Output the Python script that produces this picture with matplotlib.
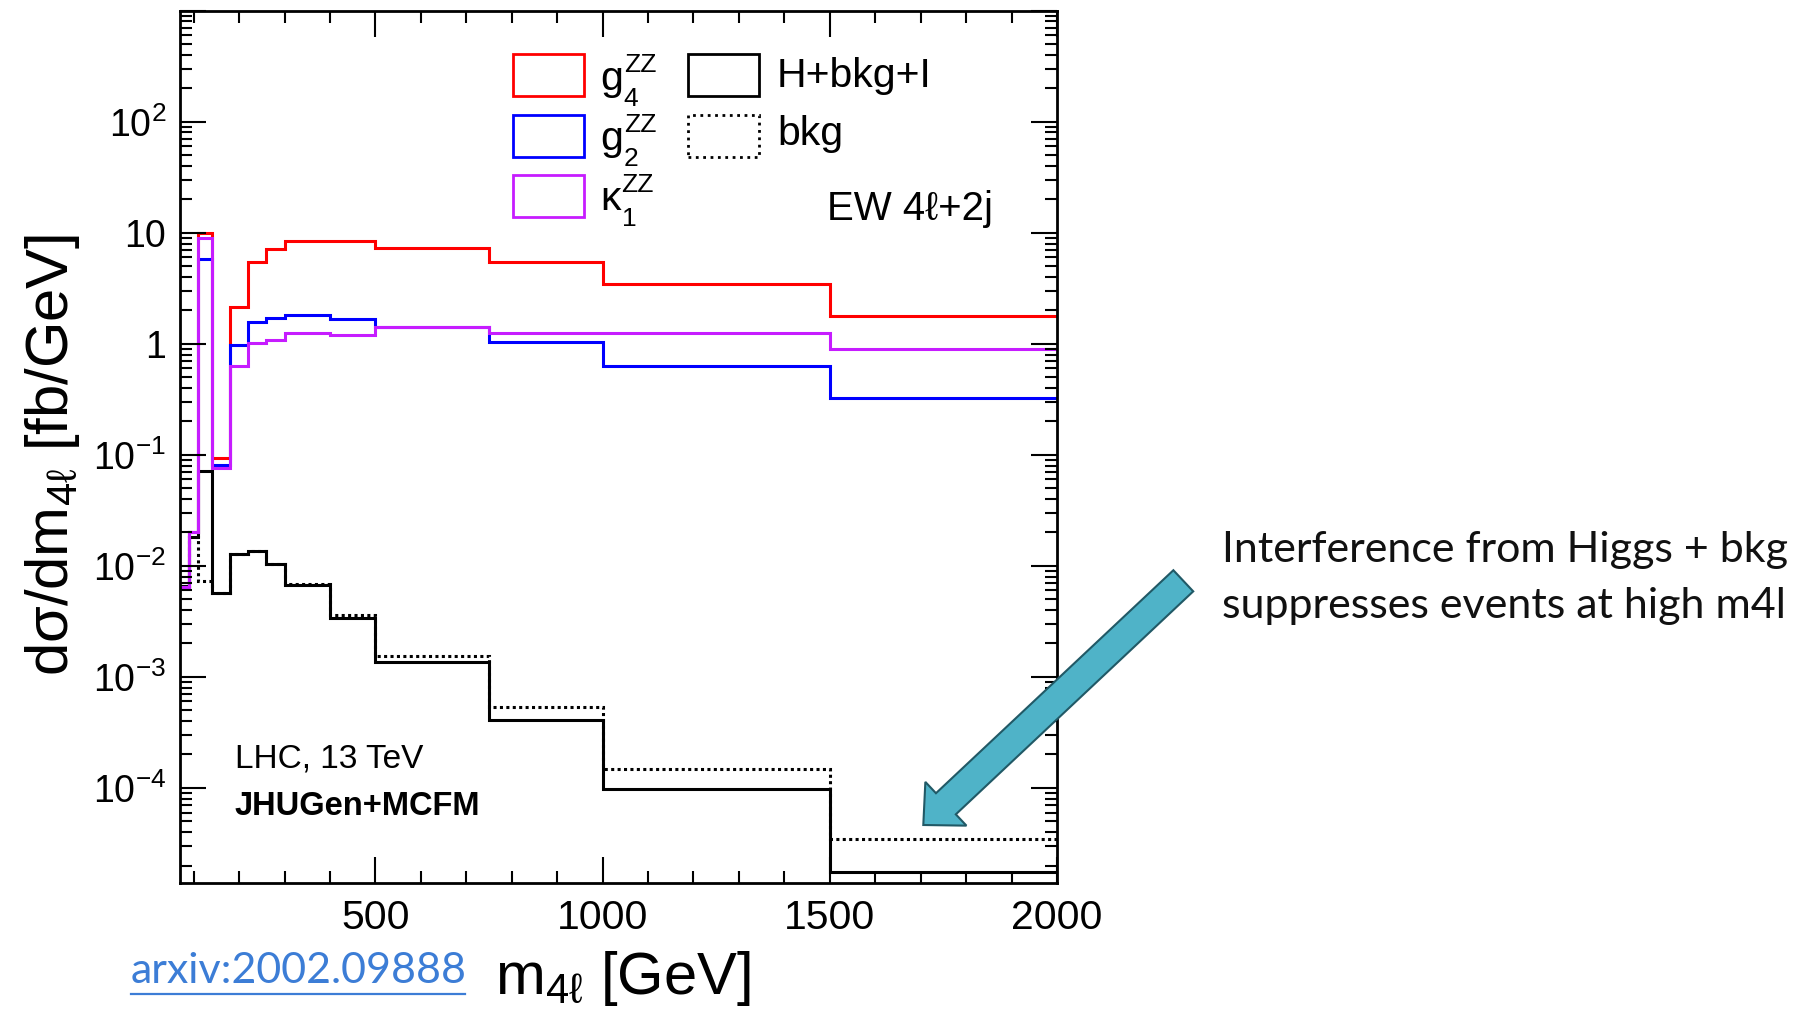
import numpy as np
import matplotlib
matplotlib.use("Agg")
import matplotlib.pyplot as plt
from matplotlib.patches import Rectangle, FancyArrow
from matplotlib.lines import Line2D
from matplotlib.ticker import FixedLocator, MultipleLocator, LogLocator, FuncFormatter, NullFormatter
from matplotlib.transforms import IdentityTransform

plt.rcParams['font.family'] = ['Liberation Sans', 'DejaVu Sans']
plt.rcParams['mathtext.fontset'] = 'custom'
plt.rcParams['mathtext.rm'] = 'Liberation Sans'
plt.rcParams['mathtext.it'] = 'Liberation Sans'
plt.rcParams['mathtext.bf'] = 'Liberation Sans:bold'
plt.rcParams['mathtext.sf'] = 'Liberation Sans'

# bin edges in m4l [GeV]
edges = [70, 90, 110, 140, 180, 220, 260, 300, 400, 500, 750, 1000, 1500, 2000]

# dsigma/dm4l [fb/GeV] per bin
g4_zz = [0.0064, 0.020, 9.9, 0.093, 2.15, 5.47, 7.08, 8.35, 8.5, 7.33, 5.47, 3.49, 1.78]
g2_zz = [0.0064, 0.020, 5.75, 0.081, 0.97, 1.57, 1.72, 1.80, 1.67, 1.42, 1.03, 0.635, 0.324]
k1_zz = [0.0064, 0.020, 8.9, 0.076, 0.63, 1.02, 1.09, 1.26, 1.20, 1.43, 1.26, 1.26, 0.905]
h_bkg_i = [0.0066, 0.018, 0.072, 0.0057, 0.0128, 0.0135, 0.0103, 0.0067, 0.0034, 0.00136, 4.1e-4, 9.8e-5, 1.73e-5]
bkg = [0.0066, 0.018, 0.0073, 0.0057, 0.0128, 0.0135, 0.0103, 0.0068, 0.0036, 0.00155, 5.3e-4, 1.49e-4, 3.46e-5]

W, H = 1812, 1009

def fx(x):
    return x / W

def fy(y):
    return 1 - y / H

fig = plt.figure(figsize=(W / 100, H / 100), dpi=100)
ax = fig.add_axes([fx(180), fy(882.7), 877 / W, 872 / H])

# histograms (ROOT style steps)
ax.stairs(bkg, edges, baseline=None, color='black', lw=2.2, ls=(0, (1, 1.1)))
ax.stairs(h_bkg_i, edges, baseline=None, color='black', lw=2.2)
ax.stairs(g4_zz, edges, baseline=None, color='#FF0000', lw=2.2)
ax.stairs(g2_zz, edges, baseline=None, color='#0000FF', lw=2.2)
ax.stairs(k1_zz, edges, baseline=None, color='#C61CFF', lw=2.2)

ax.set_xlim(70, 2000)
ax.set_yscale('log')
ax.set_ylim(1.4e-5, 1000)

ax.xaxis.set_major_locator(FixedLocator([500, 1000, 1500, 2000]))
ax.xaxis.set_minor_locator(MultipleLocator(100))
ax.yaxis.set_major_locator(LogLocator(base=10, numticks=20))
ax.yaxis.set_minor_locator(LogLocator(base=10, subs=np.arange(2, 10), numticks=20))
ax.yaxis.set_minor_formatter(NullFormatter())

def ylab(v, pos):
    e = int(round(np.log10(v)))
    if e == 0:
        return '1'
    if e == 1:
        return '10'
    if e >= 3:
        return ''
    return r'$10^{%d}$' % e

ax.yaxis.set_major_formatter(FuncFormatter(ylab))
ax.tick_params(which='both', direction='in', top=True, right=True, width=1.5)
ax.tick_params(which='major', length=19)
ax.tick_params(axis='x', which='major', pad=12, labelsize=29.5)
ax.tick_params(axis='y', which='major', pad=10, labelsize=27)
ax.tick_params(which='minor', length=8.5)
for s in ax.spines.values():
    s.set_linewidth(2)

# axis titles
fig.text(fx(53), fy(455), 'dσ/dm$_{4ℓ}$ [fb/GeV]', rotation=90, ha='center', va='center', fontsize=43)
fig.text(fx(623), fy(994), 'm$_{4ℓ}$ [GeV]', ha='center', va='baseline', fontsize=43)

# labels inside the frame
fig.text(fx(235), fy(767), 'LHC, 13 TeV', fontsize=24)
fig.text(fx(235), fy(815), 'JHUGen+MCFM', fontsize=23.5, fontweight='bold')
fig.text(fx(993), fy(220), 'EW 4ℓ+2j', ha='right', va='baseline', fontsize=29)

# legend drawn as open boxes like ROOT
entries = [
    (513, 54, '#FF0000', '-', 'g', '4', 600, 90),
    (513, 115, '#0000FF', '-', 'g', '2', 600, 150),
    (513, 175, '#C61CFF', '-', 'κ', '1', 600, 210),
    (688, 54, 'black', '-', 'H+bkg+I', '', 777, 87),
    (688, 115, 'black', ':', 'bkg', '', 777, 145),
]
renderer = fig.canvas.get_renderer()
for bx, by, col, ls, lab, sub, tx, ty in entries:
    fig.add_artist(Rectangle((fx(bx), fy(by + 42)), 71 / W, 42 / H, transform=fig.transFigure,
                             fill=False, ec=col, lw=2, ls=ls))
    t = fig.text(fx(tx), fy(ty), lab, va='baseline', fontsize=29.5)
    if sub:
        x1 = t.get_window_extent(renderer).x1 + 1
        fig.text(x1 / W, fy(ty - 18), 'ZZ', va='baseline', fontsize=19)
        fig.text(x1 / W, fy(ty + 16), sub, va='baseline', fontsize=19)

# arrow and comment
arrow = FancyArrow(1183.3, H - 580.8, -260, (H - 825) - (H - 580.8), width=29, head_width=60,
                   head_length=31, length_includes_head=True, transform=IdentityTransform(),
                   fc='#4FB3C8', ec='#215966', lw=1.5)
fig.add_artist(arrow)

fig.text(fx(1222), fy(562), 'Interference from Higgs + bkg', fontsize=31, family='Lato', color='#111111')
fig.text(fx(1222), fy(618), 'suppresses events at high m4l', fontsize=31, family='Lato', color='#111111')

# reference link
fig.text(fx(131), fy(983), 'arxiv:2002.09888', fontsize=31, family='Lato', color='#3C7DD6')
fig.add_artist(Line2D([fx(131), fx(465)], [fy(994), fy(994)], transform=fig.transFigure,
                      color='#3C7DD6', lw=1.6))

fig.savefig('out.png', dpi=100)
